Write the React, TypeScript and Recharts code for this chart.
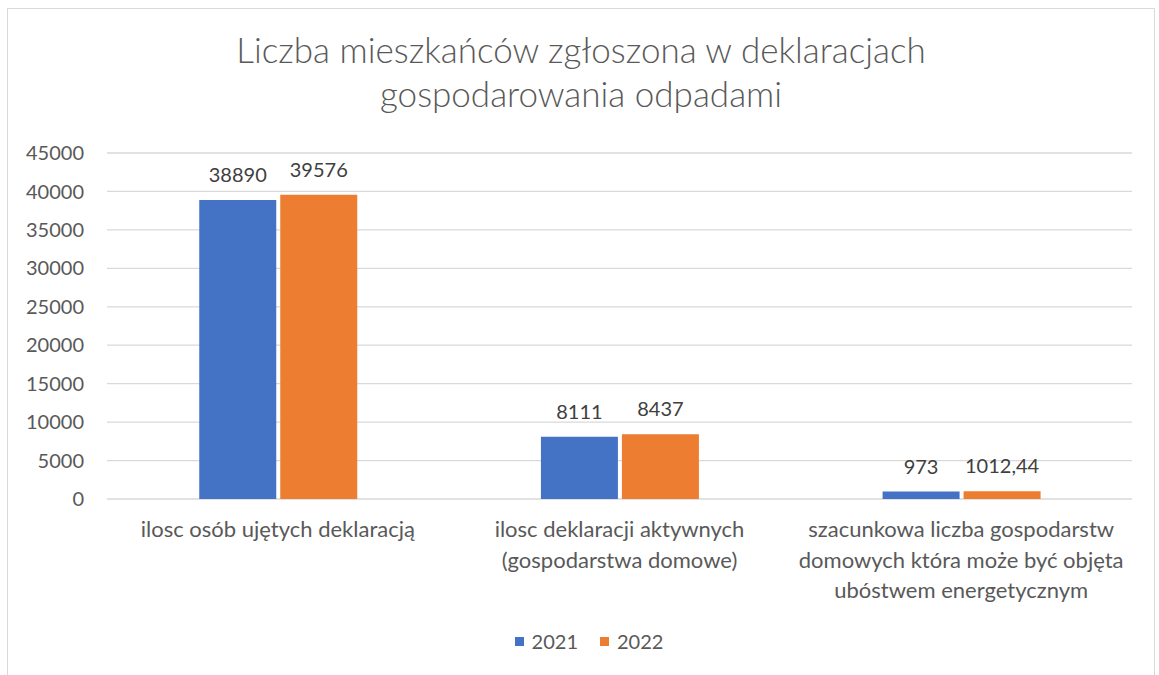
import React from "react";
import {
  BarChart,
  Bar,
  XAxis,
  YAxis,
  CartesianGrid,
  Legend,
  LabelList,
} from "recharts";

const categories = [
  "ilosc osób ujętych deklaracją",
  "ilosc deklaracji aktywnych\n(gospodarstwa domowe)",
  "szacunkowa liczba gospodarstw\ndomowych która może być objęta\nubóstwem energetycznym",
];
const values2021 = [38890, 8111, 973];
const values2022 = [39576, 8437, 1012.44];
const yTicks = [0, 5000, 10000, 15000, 20000, 25000, 30000, 35000, 40000, 45000];

const seriesNames = ["2021", "2022"];
const COLORS = ["#4472C4", "#ED7D31"];
const FONT = "Lato, 'Open Sans', sans-serif";
const TEXT = "#595959";

const data = categories.map((name, i) => ({
  name,
  y2021: values2021[i],
  y2022: values2022[i],
}));

const formatLabel = (v: unknown) => String(v).replace(".", ",");

function CategoryTick(props: { x: number; y: number; payload: { value: string } }) {
  const lines = props.payload.value.split("\n");
  return (
    <text
      x={props.x}
      y={props.y}
      textAnchor="middle"
      fill={TEXT}
      fontSize={22}
      fontFamily={FONT}
    >
      {lines.map((line, i) => (
        <tspan key={i} x={props.x} dy={i === 0 ? 38 : 30.5}>
          {line}
        </tspan>
      ))}
    </text>
  );
}

function LegendContent() {
  return (
    <div
      style={{
        height: 30,
        display: "flex",
        justifyContent: "center",
        alignItems: "center",
        gap: 22,
        fontFamily: FONT,
        fontSize: 20,
        color: TEXT,
        paddingLeft: 16,
      }}
    >
      {seriesNames.map((n, i) => (
        <span key={n} style={{ display: "flex", alignItems: "center", gap: 8 }}>
          <span style={{ width: 9, height: 9, background: COLORS[i], display: "inline-block" }} />
          {n}
        </span>
      ))}
    </div>
  );
}

export default function App() {
  return (
    <div
      style={{
        position: "fixed",
        left: 7,
        top: 8,
        width: 1148,
        height: 720,
        border: "1px solid #d9d9d9",
        boxSizing: "border-box",
        background: "#fff",
      }}
    >
      <div
        style={{
          position: "absolute",
          left: 0,
          top: 18,
          width: 1146,
          textAlign: "center",
          fontFamily: FONT,
          fontSize: 35,
          fontWeight: 300,
          lineHeight: "44px",
          color: TEXT,
        }}
      >
        Liczba mieszkańców zgłoszona w deklaracjach
        <br />
        gospodarowania odpadami
      </div>
      <div style={{ position: "absolute", left: 0, top: 0 }}>
        <BarChart
          width={1146}
          height={660}
          data={data}
          margin={{ top: 144, right: 22, left: 19, bottom: 40 }}
          barCategoryGap="27%"
          barGap={4}
        >
          <CartesianGrid vertical={false} stroke="#d9d9d9" strokeWidth={1.3} />
          <XAxis
            dataKey="name"
            axisLine={false}
            tickLine={false}
            tickSize={0}
            tickMargin={0}
            height={100}
            interval={0}
            tick={CategoryTick}
          />
          <YAxis
            domain={[0, 45000]}
            ticks={yTicks}
            width={80}
            axisLine={false}
            tickLine={false}
            tickSize={0}
            tickMargin={23}
            tick={{ fill: TEXT, fontSize: 20, fontFamily: FONT }}
          />
          <Legend
            content={LegendContent}
            wrapperStyle={{ top: 617, bottom: "auto", left: 0, width: 1146 }}
          />
          <Bar dataKey="y2021" name={seriesNames[0]} fill={COLORS[0]} isAnimationActive={false}>
            <LabelList
              dataKey="y2021"
              position="top"
              offset={18}
              formatter={formatLabel}
              fill="#404040"
              fontSize={20}
              fontFamily={FONT}
            />
          </Bar>
          <Bar dataKey="y2022" name={seriesNames[1]} fill={COLORS[1]} isAnimationActive={false}>
            <LabelList
              dataKey="y2022"
              position="top"
              offset={18}
              formatter={formatLabel}
              fill="#404040"
              fontSize={20}
              fontFamily={FONT}
            />
          </Bar>
        </BarChart>
      </div>
    </div>
  );
}
